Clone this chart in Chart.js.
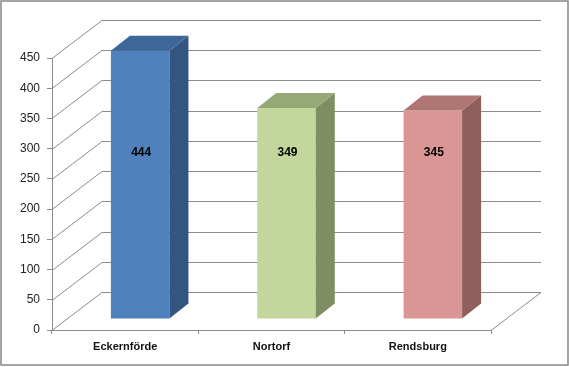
<!DOCTYPE html>
<html>
<head>
<meta charset="utf-8">
<script src="https://cdn.jsdelivr.net/npm/chart.js@4.4.0/dist/chart.umd.min.js"></script>
<style>
html, body { margin: 0; padding: 0; background: #fff; }
</style>
</head>
<body>
<canvas id="barChart" width="569" height="367"></canvas>
<script>
const categories = ["Eckernförde", "Nortorf", "Rendsburg"];
const values = [444, 349, 345];
const yTicks = [0, 50, 100, 150, 200, 250, 300, 350, 400, 450];

const frontColors = ["#4F81BD", "#C3D69B", "#D99694"];
const sideColors = ["#34557F", "#7F8E62", "#8F5F5E"];
const topColors = ["#3D6699", "#97A877", "#B07674"];

const GRID = "#8c8c8c";
const WALL_DX = 50, WALL_DY = -38;     // back wall depth
const BAR_DX = 15, BAR_DY = -11;       // bars stand a bit behind the front edge
const DEPTH_X = 19, DEPTH_Y = -15;     // depth of each bar

const ctxBar = document.getElementById("barChart").getContext("2d");

const wall3d = {
    id: "wall3d",
    beforeDatasetsDraw(chart) {
        const { ctx, chartArea: a, scales: { y } } = chart;
        ctx.save();
        ctx.strokeStyle = GRID;
        ctx.lineWidth = 1;
        yTicks.forEach(v => {
            const py = Math.round(y.getPixelForValue(v)) + 0.5;
            ctx.beginPath();
            ctx.moveTo(a.left, py);
            ctx.lineTo(a.left + WALL_DX, py + WALL_DY);
            ctx.lineTo(a.right + WALL_DX, py + WALL_DY);
            ctx.stroke();
        });
        const p0 = Math.round(y.getPixelForValue(0)) + 0.5;
        ctx.beginPath();
        ctx.moveTo(a.right, p0);
        ctx.lineTo(a.right + WALL_DX, p0 + WALL_DY);
        ctx.stroke();
        ctx.restore();

        ctx.save();
        ctx.translate(BAR_DX, BAR_DY);
    },
    afterDatasetsDraw(chart) {
        const { ctx, scales: { y: yScale } } = chart;
        const meta = chart.getDatasetMeta(0);
        meta.data.forEach((bar, i) => {
            const { x, y, base, width } = bar.getProps(["x", "y", "base", "width"], true);
            const l = x - width / 2, r = x + width / 2;
            ctx.fillStyle = sideColors[i];
            ctx.beginPath();
            ctx.moveTo(r, y);
            ctx.lineTo(r + DEPTH_X, y + DEPTH_Y);
            ctx.lineTo(r + DEPTH_X, base + DEPTH_Y);
            ctx.lineTo(r, base);
            ctx.closePath();
            ctx.fill();

            ctx.fillStyle = topColors[i];
            ctx.beginPath();
            ctx.moveTo(l, y);
            ctx.lineTo(r, y);
            ctx.lineTo(r + DEPTH_X, y + DEPTH_Y);
            ctx.lineTo(l + DEPTH_X, y + DEPTH_Y);
            ctx.closePath();
            ctx.fill();

            ctx.fillStyle = "#000";
            ctx.font = "bold 12px 'Liberation Sans', Arial, sans-serif";
            ctx.textAlign = "center";
            ctx.textBaseline = "middle";
            ctx.fillText(String(values[i]), x + 1, yScale.getPixelForValue(yScale.max * 0.61));
        });
        ctx.restore();
    },
    afterDraw(chart) {
        const { ctx } = chart;
        ctx.save();
        ctx.strokeStyle = "#868686";
        ctx.lineWidth = 1.5;
        ctx.strokeRect(1, 1, 567, 364);
        ctx.restore();
    }
};

const barChart = new Chart(ctxBar, {
    type: "bar",
    data: {
        labels: categories,
        datasets: [{
            data: values,
            backgroundColor: frontColors,
            borderWidth: 0,
            barPercentage: 0.4,
            categoryPercentage: 1
        }]
    },
    options: {
        responsive: false,
        animation: false,
        layout: { padding: { top: 58, right: 78, bottom: 0, left: 0 } },
        plugins: { legend: { display: false }, tooltip: { enabled: false } },
        scales: {
            x: {
                afterFit: s => { s.height = 37; },
                grid: { drawOnChartArea: false, tickLength: 4, color: GRID, offset: true },
                border: { color: GRID },
                ticks: {
                    color: "#111",
                    padding: 6,
                    font: { family: "'Liberation Sans', Arial, sans-serif", size: 11, weight: "bold" }
                }
            },
            y: {
                min: 0,
                max: 450,
                afterFit: s => { s.width = 52; },
                grid: { drawOnChartArea: false, tickLength: 5, color: GRID },
                border: { color: GRID },
                ticks: {
                    stepSize: 50,
                    color: "#222",
                    padding: 7,
                    font: { family: "'Liberation Sans', Arial, sans-serif", size: 12 }
                }
            }
        }
    },
    plugins: [wall3d]
});
</script>
</body>
</html>
